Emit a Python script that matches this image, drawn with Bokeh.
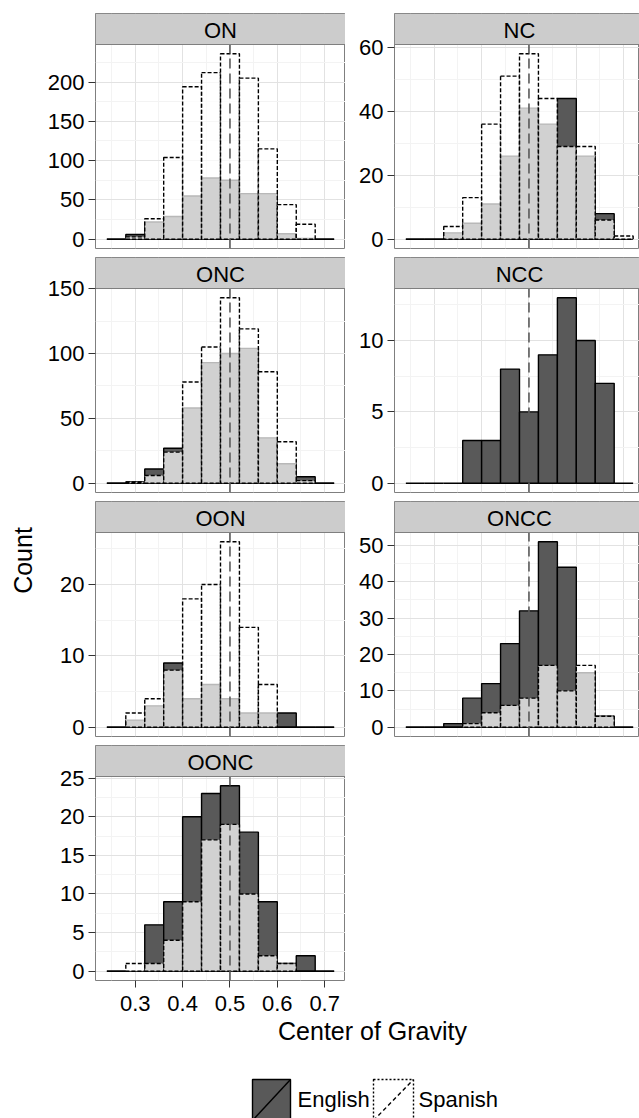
import numpy as np
from bokeh.plotting import figure
from bokeh.layouts import row, column
from bokeh.models import Range1d, FixedTicker
from bokeh.core.properties import value
from bokeh.embed import file_html
from bokeh.resources import INLINE

# ---------------- data ----------------
BIN_LEFT = [0.24, 0.28, 0.32, 0.36, 0.40, 0.44, 0.48, 0.52, 0.56, 0.60, 0.64, 0.68]
BIN_WIDTH = 0.04
REF_LINE = 0.5
X_TICKS = [0.3, 0.4, 0.5, 0.6, 0.7]
X_TICK_LABELS = ["0.3", "0.4", "0.5", "0.6", "0.7"]

ON_english = [0, 6, 22, 29, 55, 78, 75, 58, 58, 7, 1, 0]
ON_spanish = [0, 3, 26, 104, 194, 212, 236, 205, 115, 44, 19, 0]
ON_yticks = [0, 50, 100, 150, 200]

NC_english = [0, 0, 2, 5, 11, 26, 41, 36, 44, 26, 8, 0]
NC_spanish = [0, 0, 4, 13, 36, 51, 58, 44, 29, 29, 6, 1]
NC_yticks = [0, 20, 40, 60]

ONC_english = [0, 1, 11, 27, 58, 93, 100, 104, 35, 15, 5, 0]
ONC_spanish = [0, 1, 6, 24, 78, 105, 143, 119, 86, 32, 2, 0]
ONC_yticks = [0, 50, 100, 150]

NCC_english = [0, 0, 0, 3, 3, 8, 5, 9, 13, 10, 7, 0]
NCC_spanish = []
NCC_yticks = [0, 5, 10]

OON_english = [0, 1, 3, 9, 4, 6, 4, 2, 2, 2, 0, 0]
OON_spanish = [0, 2, 4, 8, 18, 20, 26, 14, 6, 0, 0, 0]
OON_yticks = [0, 10, 20]

ONCC_english = [0, 0, 1, 8, 12, 23, 32, 51, 44, 15, 3, 0]
ONCC_spanish = [0, 0, 0, 1, 4, 6, 8, 17, 10, 17, 3, 0]
ONCC_yticks = [0, 10, 20, 30, 40, 50]

OONC_english = [0, 0, 6, 9, 20, 23, 24, 18, 9, 1, 2, 0]
OONC_spanish = [0, 1, 1, 4, 9, 17, 19, 10, 2, 1, 0, 0]
OONC_yticks = [0, 5, 10, 15, 20, 25]

SERIES_NAMES = ["English", "Spanish"]
X_TITLE = "Center of Gravity"
Y_TITLE = "Count"

# ---------------- style ----------------
FONT = "Liberation Sans"
EN_FILL = "#595959"
ES_FILL = "white"
ES_ALPHA = 0.72
STRIP_FILL = "#cccccc"
BORDER = "#7f7f7f"
SMALL = "22px"
BIG = "25px"
PANEL_H = 204
STRIP_H = 31

bin_right = [b + BIN_WIDTH for b in BIN_LEFT]
x_lo = BIN_LEFT[0]
x_hi = bin_right[-1]
x_pad = 0.05 * (x_hi - x_lo)
X0, X1 = x_lo - x_pad, x_hi + x_pad
X_MID = (X0 + X1) / 2
FULL_W = 250
RIGHT_W = 245
X1_RIGHT = X0 + (X1 - X0) * RIGHT_W / FULL_W

x_minor = [t - 0.05 for t in X_TICKS]


def base_fig(**kw):
    return figure(toolbar_location=None, output_backend="svg", title=None, **kw)


def make_panel(label, en, es, yticks, left_border, frame_w, x_end,
               top_border, bottom_border, show_x):
    vals = list(en) + list(es)
    ymax = max(vals)
    ypad = 0.05 * ymax
    lo, hi = -ypad, ymax + ypad
    dpp = (hi - lo) / PANEL_H
    top = hi + STRIP_H * dpp
    p = base_fig(frame_width=frame_w, frame_height=PANEL_H + STRIP_H,
                 x_range=Range1d(X0, x_end), y_range=Range1d(lo, top),
                 x_axis_location="below" if show_x else None,
                 y_axis_location="left",
                 min_border_left=left_border, min_border_right=0,
                 min_border_top=top_border, min_border_bottom=bottom_border,
                 background_fill_color="white", border_fill_color="white",
                 outline_line_color=BORDER, outline_line_width=1)
    step = yticks[1] - yticks[0]
    y_minor = [m for m in [yticks[0] - step / 2] + [t + step / 2 for t in yticks]
               if lo < m < hi]
    yt = FixedTicker(ticks=yticks, minor_ticks=y_minor)
    xt = FixedTicker(ticks=X_TICKS, minor_ticks=x_minor)
    p.xgrid.ticker = xt
    p.ygrid.ticker = yt
    for g in (p.xgrid, p.ygrid):
        g.grid_line_color = "#e2e2e2"
        g.grid_line_width = 1
        g.minor_grid_line_color = "#f3f3f3"
        g.minor_grid_line_width = 1
    axes = list(p.yaxis) + (list(p.xaxis) if show_x else [])
    for ax in axes:
        ax.axis_line_color = None
        ax.major_tick_out = 7
        ax.major_tick_in = 0
        ax.minor_tick_out = 0
        ax.minor_tick_in = 0
        ax.major_tick_line_color = "#333333"
        ax.major_tick_line_width = 1
        ax.major_label_text_font = FONT
        ax.major_label_text_font_size = SMALL
        ax.major_label_text_color = "black"
    p.yaxis.ticker = yt
    p.yaxis.major_label_standoff = 4
    if show_x:
        p.xaxis.ticker = xt
        p.xaxis.major_label_overrides = {t: s for t, s in zip(X_TICKS, X_TICK_LABELS)}
        p.xaxis.major_label_standoff = 8

    # histogram bars
    p.quad(left=BIN_LEFT, right=bin_right, bottom=0, top=en,
           fill_color=EN_FILL, line_color="black", line_width=1.4)
    if es:
        p.quad(left=BIN_LEFT, right=bin_right, bottom=0, top=es,
               fill_color=ES_FILL, fill_alpha=ES_ALPHA, line_color="black",
               line_width=1.4, line_dash="4 2")
    # reference line at 0.5 (panel height only)
    p.segment(x0=[REF_LINE], y0=[lo], x1=[REF_LINE], y1=[hi], line_color="#5a5a5a",
              line_width=1.6, line_dash="10 5")
    # facet strip
    p.quad(left=[X0], right=[x_end], bottom=[hi], top=[top], fill_color=STRIP_FILL,
           line_color=BORDER, line_width=1)
    p.text(x=[X_MID], y=[hi + STRIP_H * dpp * 0.45], text=[label], text_align="center",
           text_baseline="middle", text_font=value(FONT),
           text_font_size=SMALL, text_color="black")
    return p


CW = 38
LB = 95 - CW
RB = 49
TOP = 13
GAP = 9

left_col = column(
    make_panel("ON", ON_english, ON_spanish, ON_yticks, LB, FULL_W, X1, TOP, GAP, False),
    make_panel("ONC", ONC_english, ONC_spanish, ONC_yticks, LB, FULL_W, X1, 0, GAP, False),
    make_panel("OON", OON_english, OON_spanish, OON_yticks, LB, FULL_W, X1, 0, GAP, False),
    make_panel("OONC", OONC_english, OONC_spanish, OONC_yticks, LB, FULL_W, X1, 0, 40, True),
    spacing=0)

right_col = column(
    make_panel("NC", NC_english, NC_spanish, NC_yticks, RB, RIGHT_W, X1_RIGHT, TOP, GAP, False),
    make_panel("NCC", NCC_english, NCC_spanish, NCC_yticks, RB, RIGHT_W, X1_RIGHT, 0, GAP, False),
    make_panel("ONCC", ONCC_english, ONCC_spanish, ONCC_yticks, RB, RIGHT_W, X1_RIGHT, 0, GAP, False),
    spacing=0)

TOP_H = 1020  # height of the panel block

# y title figure (screen coordinates, y negated)
cf = base_fig(frame_width=CW, frame_height=TOP_H, x_range=Range1d(0, CW),
              y_range=Range1d(-TOP_H, 0), x_axis_location=None, y_axis_location=None,
              min_border_left=0, min_border_right=0, min_border_top=0, min_border_bottom=0,
              outline_line_color=None, background_fill_color="white", border_fill_color="white")
for g in cf.grid:
    g.visible = False
cf.text(x=[22], y=[-560], text=[Y_TITLE], angle=np.pi / 2, text_align="center",
        text_baseline="middle", text_font=value(FONT), text_font_size=BIG, text_color="black")

# bottom figure: x title + legend (transparent, slightly overlapping the axis area)
OVER = 6
BF_TOP = TOP_H - OVER
BF_H = 104
bf = base_fig(frame_width=639, frame_height=BF_H, x_range=Range1d(0, 639),
              y_range=Range1d(-(BF_TOP + BF_H), -BF_TOP), x_axis_location=None,
              y_axis_location=None, min_border_left=0, min_border_right=0,
              min_border_top=0, min_border_bottom=0, outline_line_color=None,
              background_fill_color=None, border_fill_color=None)
bf.styles = {"margin-top": f"-{OVER}px"}
for g in bf.grid:
    g.visible = False
bf.text(x=[372], y=[-1030], text=[X_TITLE], text_align="center", text_baseline="middle",
        text_font=value(FONT), text_font_size=BIG, text_color="black")
bf.quad(left=[252], right=[290], top=[-1079], bottom=[-1120],
        fill_color=EN_FILL, line_color="black", line_width=1.4)
bf.segment(x0=[252], y0=[-1120], x1=[290], y1=[-1079], line_color="black", line_width=1.4)
bf.quad(left=[373], right=[413], top=[-1079], bottom=[-1120],
        fill_color="white", line_color="black", line_width=1.4, line_dash="2 2")
bf.segment(x0=[373], y0=[-1120], x1=[413], y1=[-1079], line_color="black",
           line_width=1.4, line_dash="4 3")
bf.text(x=[297, 418], y=[-1099, -1099], text=SERIES_NAMES, text_align="left",
        text_baseline="middle", text_font=value(FONT), text_font_size=SMALL, text_color="black")

layout = column(row(cf, left_col, right_col, spacing=0), bf, spacing=0)

open("out.html", "w").write(file_html(layout, INLINE))
